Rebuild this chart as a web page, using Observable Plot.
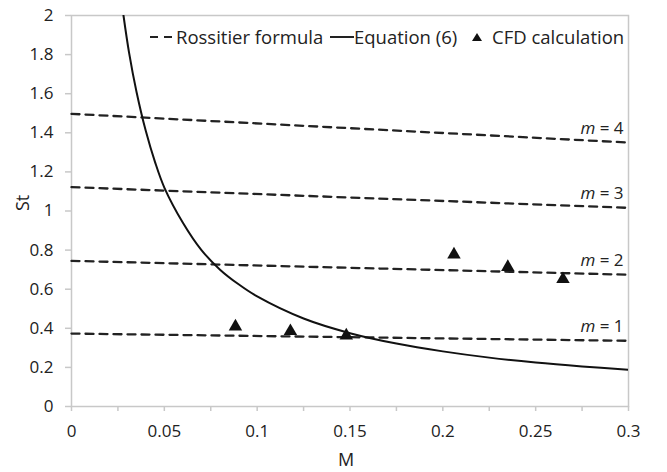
<!DOCTYPE html>
<html>
<head>
<meta charset="utf-8">
<script src="https://cdn.jsdelivr.net/npm/d3@7"></script>
<script src="https://cdn.jsdelivr.net/npm/@observablehq/plot@0.6"></script>
<style>
  html, body { margin: 0; padding: 0; background: #fff; }
  #wrap { position: relative; width: 667px; height: 472px; font-family: "Open Sans", Lato, sans-serif; }
  .lg { position: absolute; top: 25px; height: 24px; line-height: 24px; font-size: 18.5px; color: #222; white-space: nowrap; }
  .lg svg { display: block; margin-top: 7px; }
</style>
</head>
<body>
<div id="wrap">
  <div id="chart"></div>
  <div class="lg" style="left:150px"><svg width="26" height="10"><line x1="0" y1="5" x2="26" y2="5" stroke="#222" stroke-width="2.2" stroke-dasharray="8,6"/></svg></div>
  <div class="lg" style="left:176px">Rossitier formula</div>
  <div class="lg" style="left:330px"><svg width="24" height="10"><line x1="0" y1="5" x2="24" y2="5" stroke="#222" stroke-width="2"/></svg></div>
  <div class="lg" style="left:354px">Equation (6)</div>
  <div class="lg" style="left:471px"><svg width="12" height="10"><path d="M6,1 L11,9 L1,9 Z" fill="#111"/></svg></div>
  <div class="lg" style="left:492px">CFD calculation</div>
</div>
<script>
// Rossiter formula lines: St at M = 0 and at M = 0.3, for m = 1..4
const rossiterModes = [1, 2, 3, 4];
const rossiterM = [0, 0.3];
const rossiterSt = [
  [0.373, 0.336],
  [0.745, 0.674],
  [1.122, 1.016],
  [1.497, 1.350]
];
// Equation (6) curve
const eqM  = [0.028, 0.031, 0.035, 0.040, 0.045, 0.050, 0.060, 0.070, 0.080, 0.090, 0.100, 0.125, 0.150, 0.175, 0.200, 0.225, 0.250, 0.275, 0.300];
const eqSt = [2.00, 1.81, 1.61, 1.41, 1.25, 1.12, 0.94, 0.80, 0.70, 0.625, 0.563, 0.450, 0.375, 0.322, 0.282, 0.250, 0.225, 0.205, 0.188];
// CFD calculation points
const cfdM  = [0.0883, 0.1179, 0.148, 0.206, 0.235, 0.2647];
const cfdSt = [0.409, 0.385, 0.363, 0.777, 0.713, 0.651];
// Ticks
const xTicks = [0, 0.05, 0.1, 0.15, 0.2, 0.25, 0.3];
const xMinorTicks = [0.025, 0.075, 0.125, 0.175, 0.225, 0.275];
const yTicks = [0, 0.2, 0.4, 0.6, 0.8, 1, 1.2, 1.4, 1.6, 1.8, 2];
const modeLabels = ["m = 1", "m = 2", "m = 3", "m = 4"];

const rossiter = rossiterModes.flatMap((m, i) => rossiterM.map((x, j) => ({m, M: x, St: rossiterSt[i][j]})));
const eq = eqM.map((x, i) => ({M: x, St: eqSt[i]}));
const cfd = cfdM.map((x, i) => ({M: x, St: cfdSt[i]}));
const labels = rossiterModes.map((m, i) => ({m, M: rossiterM[1], St: rossiterSt[i][1]}));

const fmt = d => d === 0 ? "0" : String(d);

const chart = Plot.plot({
  width: 667,
  height: 472,
  marginLeft: 71,
  marginRight: 39,
  marginTop: 15,
  marginBottom: 66,
  style: { fontFamily: "'Open Sans', Lato, sans-serif", fontSize: "17px", color: "#222", background: "#fff" },
  x: { domain: [0, 0.3], ticks: xTicks, label: null },
  y: { domain: [0, 2], ticks: yTicks, label: null },
  marks: [
    Plot.frame({ stroke: "#c8c8c8", strokeWidth: 1.5 }),
    Plot.axisX(xMinorTicks, { tickSize: 5, tickFormat: () => "", stroke: "#c8c8c8", strokeWidth: 1.5, label: null }),
    Plot.axisX(xTicks, { tickSize: 5, tickPadding: 13, tickFormat: fmt, stroke: "#c8c8c8", strokeWidth: 1.5, fill: "#222", fontSize: 17, label: null }),
    Plot.axisY(yTicks, { tickSize: 6, tickPadding: 12, tickFormat: fmt, stroke: "#c8c8c8", strokeWidth: 1.5, fill: "#222", fontSize: 17, label: null }),
    Plot.text(["M"], { frameAnchor: "bottom", dx: -4, dy: 59, fontSize: 18, fill: "#222" }),
    Plot.text(["St"], { frameAnchor: "left", dx: -48, rotate: -90, fontSize: 18, fill: "#222" }),
    Plot.line(rossiter, { x: "M", y: "St", z: "m", stroke: "#222", strokeWidth: 2.3, strokeDasharray: "8,6" }),
    Plot.line(eq, { x: "M", y: "St", stroke: "#111", strokeWidth: 2, curve: "catmull-rom", clip: true }),
    Plot.dot(cfd, { x: "M", y: "St", symbol: "triangle", r: 5, fill: "#111", stroke: "none" }),
    Plot.text(labels, { x: "M", y: "St", text: (d, i) => modeLabels[i], textAnchor: "end", dx: -5, dy: -14, fontSize: 17, fill: "#222" })
  ]
});
document.getElementById("chart").appendChild(chart);

// italicise the "m" in the mode labels
d3.select(chart).selectAll("text").each(function() {
  const t = this.textContent;
  if (/^m = \d$/.test(t)) {
    const sel = d3.select(this);
    sel.text("");
    sel.append("tspan").attr("font-style", "italic").text("m");
    sel.append("tspan").text(t.slice(1));
  }
});
</script>
</body>
</html>
